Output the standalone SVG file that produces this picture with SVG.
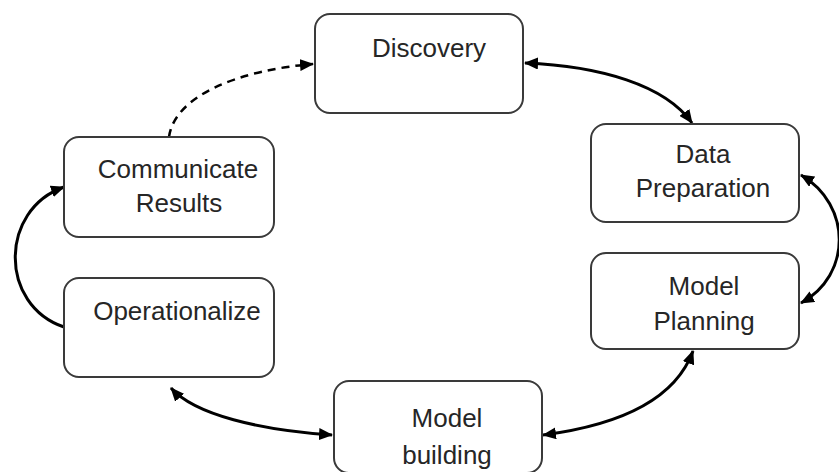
<svg xmlns="http://www.w3.org/2000/svg" width="839" height="472" viewBox="0 0 839 472">
<style>
.box{fill:#fff;stroke:#3a3a3a;stroke-width:2}
.t{font-family:"Liberation Sans",Arial,sans-serif;font-size:26px;fill:#262626;text-anchor:middle}
.c{fill:none;stroke:#000;stroke-width:3}
.d{fill:none;stroke:#000;stroke-width:2.5;stroke-dasharray:8 6}
</style>
<defs>
<marker id="ah" markerUnits="userSpaceOnUse" markerWidth="14" markerHeight="12" refX="13" refY="6" orient="auto-start-reverse" viewBox="0 0 14 12">
<path d="M0,0 L14,6 L0,12 Z" fill="#000"/>
</marker>
</defs>
<rect width="839" height="472" fill="#fff"/>
<g id="connectors">
<path class="c" d="M525,63 C600,66 665,85 692,123" marker-start="url(#ah)" marker-end="url(#ah)"/>
<path class="c" d="M801,175 C852,205 852,275 801,303" marker-start="url(#ah)" marker-end="url(#ah)"/>
<path class="c" d="M543,435 C620,425 675,400 693,351" marker-start="url(#ah)" marker-end="url(#ah)"/>
<path class="c" d="M332,435 C260,430 195,415 171,388" marker-start="url(#ah)" marker-end="url(#ah)"/>
<path class="c" d="M64,327 C-1,305 -1,210 64,187" marker-end="url(#ah)"/>
<path class="d" d="M169,137 C175,95 240,70 313,64" marker-end="url(#ah)"/>
</g>
<g id="discovery">
<rect class="box" x="315" y="14" width="208" height="99" rx="15"/>
<text class="t" x="429" y="57">Discovery</text>
</g>
<g id="data-preparation">
<rect class="box" x="591" y="124" width="208" height="98" rx="15"/>
<text class="t" x="703" y="163">Data</text>
<text class="t" x="703" y="197">Preparation</text>
</g>
<g id="model-planning">
<rect class="box" x="591" y="253" width="208" height="96" rx="15"/>
<text class="t" x="704" y="295">Model</text>
<text class="t" x="704" y="330">Planning</text>
</g>
<g id="model-building">
<rect class="box" x="334" y="381" width="208" height="92" rx="15"/>
<text class="t" x="447" y="427">Model</text>
<text class="t" x="447" y="464">building</text>
</g>
<g id="operationalize">
<rect class="box" x="64" y="278" width="210" height="99" rx="15"/>
<text class="t" x="177" y="320">Operationalize</text>
</g>
<g id="communicate-results">
<rect class="box" x="64" y="137" width="210" height="100" rx="15"/>
<text class="t" x="178" y="178">Communicate</text>
<text class="t" x="179" y="212">Results</text>
</g>
</svg>
